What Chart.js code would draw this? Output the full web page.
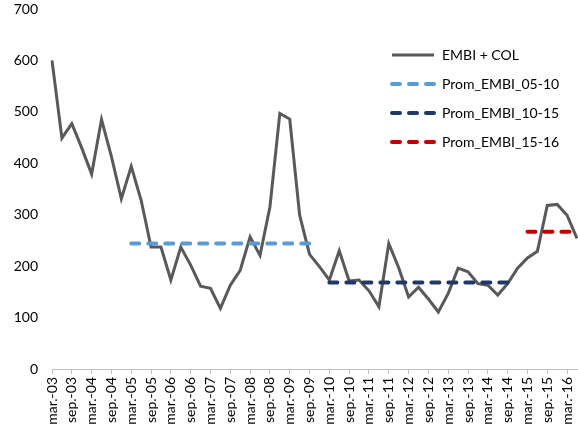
<!DOCTYPE html>
<html>
<head>
<meta charset="utf-8">
<script src="https://cdn.jsdelivr.net/npm/chart.js@4.4.1/dist/chart.umd.min.js"></script>
<style>
  html, body { margin: 0; padding: 0; background: #fff; overflow: hidden; }
</style>
</head>
<body>
<canvas id="myChart" width="578" height="438"></canvas>
<script>
// quarterly categories (only mar / sep get a tick label)
const quarters = [
  "mar.-03", "jun.-03", "sep.-03", "dic.-03", "mar.-04", "jun.-04", "sep.-04", "dic.-04",
  "mar.-05", "jun.-05", "sep.-05", "dic.-05", "mar.-06", "jun.-06", "sep.-06", "dic.-06",
  "mar.-07", "jun.-07", "sep.-07", "dic.-07", "mar.-08", "jun.-08", "sep.-08", "dic.-08",
  "mar.-09", "jun.-09", "sep.-09", "dic.-09", "mar.-10", "jun.-10", "sep.-10", "dic.-10",
  "mar.-11", "jun.-11", "sep.-11", "dic.-11", "mar.-12", "jun.-12", "sep.-12", "dic.-12",
  "mar.-13", "jun.-13", "sep.-13", "dic.-13", "mar.-14", "jun.-14", "sep.-14", "dic.-14",
  "mar.-15", "jun.-15", "sep.-15", "dic.-15", "mar.-16", "jun.-16",
];

const embiCol = [
  600, 449, 477, 430, 379, 485, 413, 331,
  394, 328, 237, 237, 173, 237, 202, 161,
  157, 118, 163, 192, 257, 221, 315, 497,
  486, 299, 223, 199, 173, 230, 171, 173,
  152, 121, 244, 197, 140, 159, 136, 111,
  147, 196, 189, 166, 163, 144, 166, 196,
  216, 229, 318, 320, 299, 254,
];

// period averages: value + first / last quarter
const avgLabels = ["Prom_EMBI_05-10", "Prom_EMBI_10-15", "Prom_EMBI_15-16"];
const avgValues = [244, 168, 267];
const avgFrom = ["mar.-05", "mar.-10", "mar.-15"];
const avgTo = ["sep.-09", "sep.-14", "jun.-16"];
const avgColors = ["#5b9bd5", "#1f3864", "#c00000"];

const yTicks = [0, 100, 200, 300, 400, 500, 600, 700];

const periodSeries = (i) =>
  quarters.map((q, k) =>
    k >= quarters.indexOf(avgFrom[i]) && k <= quarters.indexOf(avgTo[i]) ? avgValues[i] : null
  );

const datasets = [
  {
    label: "EMBI + COL",
    data: embiCol,
    borderColor: "#595959",
    borderWidth: 3,
    order: 4,
  },
];
avgLabels.forEach((lbl, i) => {
  datasets.push({
    label: lbl,
    data: periodSeries(i),
    borderColor: avgColors[i],
    borderWidth: 4,
    borderDash: [8, 9],
    borderCapStyle: "round",
    spanGaps: false,
    order: 3 - i,
  });
});

// legend drawn inside the plot, top right
const legendBox = {
  id: "legendBox",
  afterDraw(chart) {
    const ctx = chart.ctx;
    chart.data.datasets.forEach((ds, i) => {
      const y = 55 + i * 29;
      ctx.save();
      ctx.strokeStyle = ds.borderColor;
      ctx.lineWidth = ds.borderWidth;
      ctx.lineCap = ds.borderCapStyle || "butt";
      ctx.setLineDash(ds.borderDash || []);
      ctx.beginPath();
      ctx.moveTo(392, y);
      ctx.lineTo(434, y);
      ctx.stroke();
      ctx.setLineDash([]);
      ctx.fillStyle = "#000";
      ctx.font = "14px Lato";
      ctx.textBaseline = "middle";
      ctx.fillText(ds.label, 442, y);
      ctx.restore();
    });
  },
};

Chart.defaults.font.family = "Lato";
Chart.defaults.font.size = 14;
Chart.defaults.color = "#000";

const draw = () => {
  const ctx = document.getElementById("myChart");
  new Chart(ctx, {
    type: "line",
    data: { labels: quarters, datasets: datasets },
    options: {
      responsive: false,
      animation: false,
      devicePixelRatio: 1,
      layout: { padding: { left: 0, top: 9, right: 1, bottom: 0 } },
      elements: { point: { radius: 0 }, line: { tension: 0 } },
      plugins: { legend: { display: false }, tooltip: { enabled: false } },
      scales: {
        x: {
          offset: false,
          grid: {
            drawOnChartArea: false,
            drawTicks: true,
            tickLength: 5,
            tickColor: (c) => (c.index % 2 === 0 ? "#bfbfbf" : "rgba(0,0,0,0)"),
          },
          border: { color: "#bfbfbf", width: 1 },
          ticks: {
            autoSkip: false,
            minRotation: 90,
            maxRotation: 90,
            padding: 3,
            callback: (v, i) => (i % 2 === 0 ? quarters[i] : ""),
          },
          afterFit: (s) => {
            s.height = 69;
            s.paddingLeft = 0;
            s.paddingRight = 0;
          },
        },
        y: {
          min: yTicks[0],
          max: yTicks[yTicks.length - 1],
          grid: { display: false, drawTicks: false },
          border: { display: false },
          ticks: { stepSize: 100, padding: 14 },
          afterFit: (s) => {
            s.width = 52;
            s.paddingTop = 0;
            s.paddingBottom = 0;
          },
        },
      },
    },
    plugins: [legendBox],
  });
};

document.fonts.load("14px Lato").then(draw, draw);
</script>
</body>
</html>
